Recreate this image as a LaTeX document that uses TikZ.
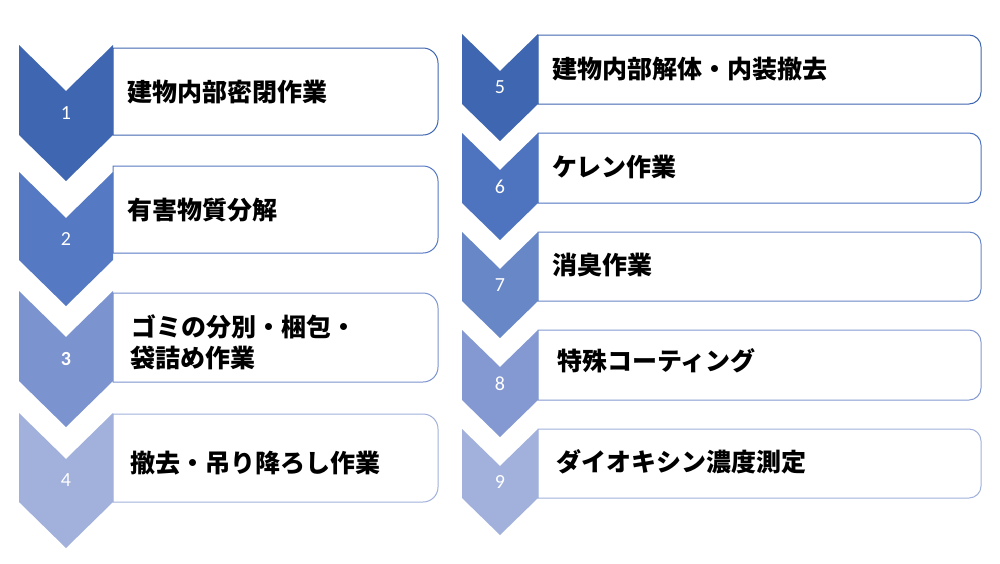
\documentclass[tikz,border=0pt]{standalone}
\usepackage{fontspec}
\newfontfamily\jpfont{Noto Sans CJK JP}
\newfontfamily\numfont{Carlito}
\definecolor{cA}{HTML}{3F66B0}
\definecolor{cB}{HTML}{5579C3}
\definecolor{cC}{HTML}{7B93CF}
\definecolor{cD}{HTML}{A1B1DB}
\definecolor{cF}{HTML}{4F74BF}
\definecolor{cG}{HTML}{6787C7}
\definecolor{cH}{HTML}{8499D1}
\tikzset{
  jp/.style={font=\jpfont\bfseries\fontsize{25}{30}\selectfont, anchor=base west, inner sep=0pt, text=black},
  num/.style={font=\numfont\fontsize{20}{24}\selectfont, text=white, inner sep=0pt},
  card/.style={line width=1pt, fill=white},
}
% card: x1, x2, top, bottom, radius, colour
\newcommand\cardshape[6]{%
  \draw[card, draw=#6] (#1,-#3) -- ({#2-#5},-#3) arc[start angle=90,end angle=0,radius=#5]
    -- (#2,{-#4+#5}) arc[start angle=0,end angle=-90,radius=#5] -- (#1,-#4) -- cycle;}
% chevron: xl, xm, xr, top, straight bottom, depth, colour
\newcommand\chevshape[7]{%
  \fill[#7] (#1,-#4) -- (#2,{-#4-#6}) -- (#3,-#4) -- (#3,-#5) -- (#2,{-#5-#6}) -- (#1,-#5) -- cycle;}
\begin{document}
\begin{tikzpicture}[x=1pt,y=1pt]
\useasboundingbox (0,0) rectangle (1000,-563);
\fill[white] (0,0) rectangle (1000,-563);

% left column cards
\cardshape{113}{438}{48}{135}{15}{cA}
\cardshape{113}{438}{166}{253}{15}{cB}
\cardshape{113}{438}{293}{382}{15}{cC}
\cardshape{113}{438}{414}{502}{15}{cD}
% right column cards
\cardshape{538}{981}{35}{104}{12}{cA}
\cardshape{538}{981}{133}{203}{12}{cF}
\cardshape{538}{981}{232}{301}{12}{cG}
\cardshape{538}{981}{330}{400}{12}{cH}
\cardshape{538}{981}{429}{498}{12}{cD}

% left chevrons
\chevshape{19}{66}{113}{45}{135}{46}{cA}
\chevshape{19}{66}{113}{172}{260}{46}{cB}
\chevshape{19}{66}{113}{291}{381}{46}{cC}
\chevshape{19}{66}{113}{413}{502}{46}{cD}
% right chevrons
\chevshape{462}{500}{538}{34}{104}{37}{cA}
\chevshape{462}{500}{538}{133}{203}{37}{cF}
\chevshape{462}{500}{538}{232}{301}{37}{cG}
\chevshape{462}{500}{538}{330}{400}{37}{cH}
\chevshape{462}{500}{538}{429}{498}{37}{cD}

% numbers
\node[num] (n1) at (66,-113) {1};
\node[num] (n2) at (66,-239) {2};
\node[num, font=\numfont\bfseries\fontsize{20}{24}\selectfont] (n3) at (66,-359) {3};
\node[num] (n4) at (66,-480.5) {4};
\node[num] (n5) at (500,-87.5) {5};
\node[num] (n6) at (500,-186.5) {6};
\node[num] (n7) at (500,-285) {7};
\node[num] (n8) at (500,-383.5) {8};
\node[num] (n9) at (500,-482) {9};

% texts
\node[jp] (t1) at (127,-101.5) {建物内部密閉作業};
\node[jp] (t2) at (127,-219.5) {有害物質分解};
\node[jp] (t3a) at (131,-336.5) {ゴミの分別・梱包・};
\node[jp] (t3b) at (130,-367.5) {袋詰め作業};
\node[jp] (t4) at (130,-472.5) {撤去・吊り降ろし作業};
\node[jp] (t5) at (552,-78.5) {建物内部解体・内装撤去};
\node[jp] (t6) at (552,-176) {ケレン作業};
\node[jp] (t7) at (552,-274.5) {消臭作業};
\node[jp] (t8) at (557,-370) {特殊コーティング};
\node[jp] (t9) at (556,-471.5) {ダイオキシン濃度測定};
\end{tikzpicture}
\end{document}
